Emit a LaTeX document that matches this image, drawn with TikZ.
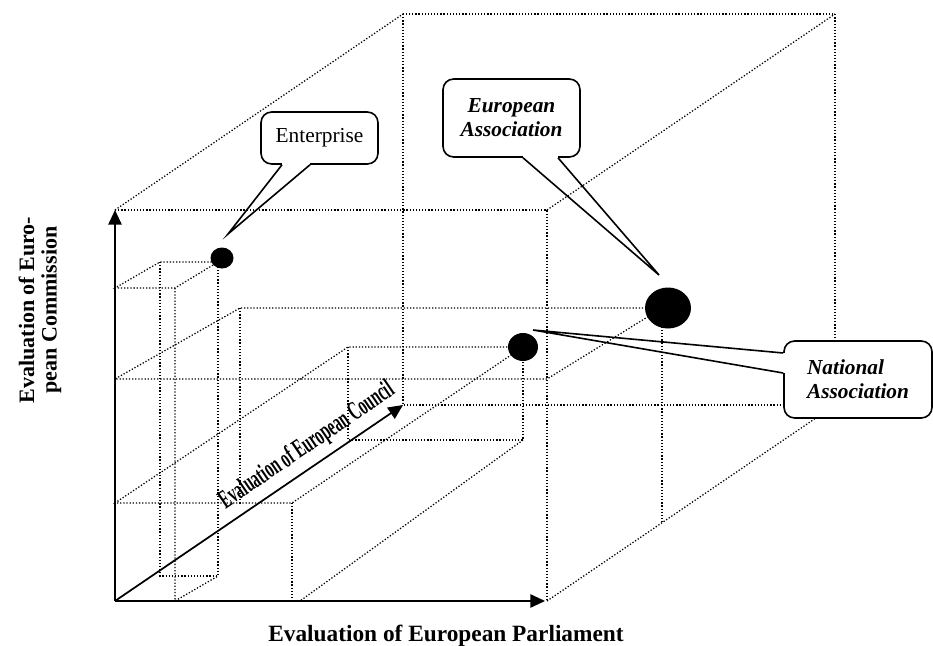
\documentclass[tikz,border=0pt]{standalone}
\usepackage{fontspec}
\setmainfont{Liberation Serif}
\usetikzlibrary{arrows.meta,calc,shapes.geometric}

\begin{document}
\begin{tikzpicture}[x=0.75pt, y=-0.75pt,
    dotline/.style={line width=0.95pt, dash pattern=on 0.95pt off 1.4pt},
    axis/.style={line width=1.3pt, -{Triangle[length=11pt,width=10pt]}},
    bubble/.style={draw, line width=1.2pt, fill=white, rounded corners=8pt, inner sep=0pt, align=center},
    tail/.style={line width=1.2pt},
    blob/.style={ellipse, fill=black, inner sep=0pt}]

    \useasboundingbox (0,0) rectangle (933,646);

    \def\xa{115}
    \def\xb{547}
    \def\xc{403}
    \def\xd{835}

    \def\ya{601}
    \def\yb{210}
    \def\yc{405}
    \def\yd{14}

    % cube
    \draw[dotline] (\xa,\yb) -- (\xb,\yb) -- (\xb,\ya);
    \draw[dotline] (\xc,\yd) rectangle (\xd,\yc);
    \draw[dotline] (\xa,\yb) -- (\xc,\yd);
    \draw[dotline] (\xb,\yb) -- (\xd,\yd);
    \draw[dotline] (\xb,\ya) -- (\xd,\yc);

    % box of the enterprise
    \draw[dotline] (218,262) -- (160,262) -- (\xa,288) -- (175,288) -- (218,262);
    \draw[dotline] (160,262) -- (160,576) -- (218,576) -- (218,262);
    \draw[dotline] (175,288) -- (175,\ya) -- (218,576);

    % box of the european association
    \draw[dotline] (662,308) -- (240,308) -- (\xa,379) -- (\xb,379) -- (662,308);
    \draw[dotline] (240,308) -- (240,504);
    \draw[dotline] (662,308) -- (662,523);

    % box of the national association
    \draw[dotline] (523,347) -- (348,347) -- (\xa,503) -- (292,503) -- (523,347);
    \draw[dotline] (292,503) -- (292,\ya);
    \draw[dotline] (348,347) -- (348,440) -- (523,440) -- (523,347);
    \draw[dotline] (523,440) -- (300,\ya);

    % axes
    \coordinate (o) at (\xa,\ya);
    \coordinate (px) at (545,\ya);
    \coordinate (py) at (\xa,\yb);
    \coordinate (pz) at (\xc,\yc);
    \draw[axis] (o) -- (py);
    \draw[axis] (o) -- (px);
    \draw[axis] (o) -- (pz);

    \node[font=\fontsize{17.5}{20}\selectfont\bfseries, anchor=base] (lx) at (446,641) {Evaluation of European Parliament};
    \node[font=\fontsize{16.5}{17}\selectfont\bfseries, align=center, rotate=90] (ly) at (40,310) {Evaluation of Euro-\\pean Commission};
    \node[font=\fontsize{20}{20}\selectfont\bfseries, rotate=34.2, inner sep=0pt] (lz) at (307,446) {\scalebox{0.56}[1]{Evaluation of European Council}};

    % points
    \node[blob, minimum width=17.25pt, minimum height=15.75pt] (ent) at (222,258) {};
    \node[blob, minimum width=34.5pt, minimum height=30.75pt] (eur) at (668,308) {};
    \node[blob, minimum width=22.5pt, minimum height=21pt] (nat) at (523,347) {};

    % callouts
    \node[bubble, minimum width=87.75pt, minimum height=39pt, font=\fontsize{16}{18}\selectfont] (entbox) at (319.5,138) {Enterprise};
    \node[bubble, minimum width=102.75pt, minimum height=58.5pt, font=\fontsize{16}{18}\selectfont\bfseries\itshape] (eurbox) at (511.5,118) {European\\Association};
    \node[bubble, align=left, minimum width=111pt, minimum height=57.75pt, font=\fontsize{16}{18}\selectfont\bfseries\itshape] (natbox) at (858,379.5) {National\\Association};

    \coordinate (enttip) at (228,234);
    \coordinate (eurtip) at (659,275);
    \coordinate (nattip) at (533,330);

    \draw[white, line width=2.4pt] ($(entbox.south)+(-37.5,0)$) -- ($(entbox.south)+(-9.5,0)$);
    \draw[tail] ($(entbox.south)+(-37.5,0)$) -- (enttip) -- ($(entbox.south)+(-9.5,0)$);

    \draw[white, line width=2.4pt] ($(eurbox.south)+(11.5,0)$) -- ($(eurbox.south)+(46.5,0)$);
    \draw[tail] ($(eurbox.south)+(11.5,0)$) -- (eurtip) -- ($(eurbox.south)+(46.5,0)$);

    \draw[white, line width=2.4pt] ($(natbox.west)+(0,-26.5)$) -- ($(natbox.west)+(0,-6.5)$);
    \draw[tail] ($(natbox.west)+(0,-26.5)$) -- (nattip) -- ($(natbox.west)+(0,-6.5)$);

\end{tikzpicture}
\end{document}
